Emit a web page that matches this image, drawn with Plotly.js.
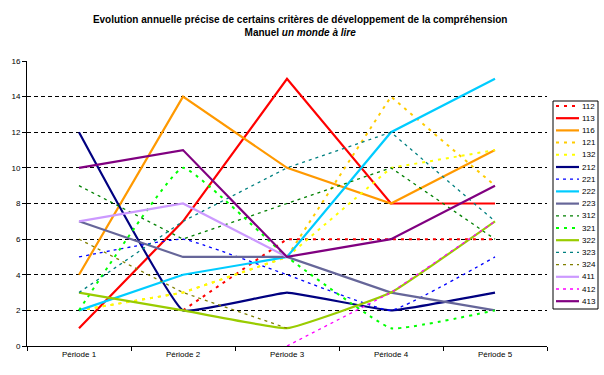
<!DOCTYPE html>
<html>
<head>
<meta charset="utf-8">
<script src="https://cdn.plot.ly/plotly-3.0.1.min.js"></script>
<style>html,body{margin:0;padding:0;background:#fff;}#chart{width:604px;height:375px;}</style>
</head>
<body>
<div id="chart"></div>
<script>
const periods = ['Période 1', 'Période 2', 'Période 3', 'Période 4', 'Période 5'];
const names = ['112','113','116','121','132','212','221','222','223','312','321','322','323','324','411','412','413'];
const s112 = [null, 2, 6, 6, 6];
const s113 = [1, 7, 15, 8, 8];
const s116 = [4, 14, 10, 8, 11];
const s121 = [2, 3, 5, 14, 9];
const s132 = [2, 3, 5, 10, 11];
const s212 = [12, 2, 3, 2, 3];
const s221 = [5, 6, 4, 2, 5];
const s222 = [2, 4, 5, 12, 15];
const s223 = [7, 5, 5, 3, 2];
const s312 = [9, 6, 8, 10, 6];
const s321 = [2, 10, 5, 1, 2];
const s322 = [3, 2, 1, 3, 7];
const s323 = [3, 7, 10, 12, 7];
const s324 = [6, 3, 1, null, null];
const s411 = [7, 8, 5, null, null];
const s412 = [null, null, 0, 3, 7];
const s413 = [10, 11, 5, 6, 9];
const yTicks = [0, 2, 4, 6, 8, 10, 12, 14, 16];

const values = [s112,s113,s116,s121,s132,s212,s221,s222,s223,s312,s321,s322,s323,s324,s411,s412,s413];
const colors = ['#FF0000','#FF0000','#FF9900','#FFCC00','#FFFF00','#000080','#0000FF','#00CCFF','#666699','#008000','#00FF00','#99CC00','#008080','#808000','#CC99FF','#FF00FF','#800080'];
// style: 's' solid, 'd' square dot, 'h' thin dash
const styles = ['d','s','s','d','d','s','h','s','s','h','d','s','h','h','s','h','s'];
const smooth = {'212':0.25,'322':0.3,'321':0.3,'221':0.3};

function lineFor(i){
  const st = styles[i];
  if (st === 's') return {color: colors[i], width: 2.2};
  if (st === 'd') return {color: colors[i], width: 2, dash: '3px,5px'};
  return {color: colors[i], width: 1.3, dash: '3px,4px'};
}

const traces = names.map((n, i) => {
  const ln = lineFor(i);
  if (smooth[n]) { ln.shape = 'spline'; ln.smoothing = smooth[n]; }
  return {type: 'scatter', mode: 'lines', name: n, x: periods, y: values[i], line: ln, connectgaps: false, showlegend: false, hoverinfo: 'skip'};
});

const L = 27, R = 547, T = 61, B = 346;
const px = v => (v - L) / (R - L);
const py = v => (B - v) / (B - T);

const shapes = [{type: 'rect', xref: 'paper', yref: 'paper', x0: px(553), x1: px(598), y0: py(309), y1: py(101), line: {color: '#000', width: 1}, fillcolor: '#fff'}];
const annotations = [];
names.forEach((n, i) => {
  const yy = 106 + i * 12.2;
  const ln = lineFor(i);
  shapes.push({type: 'line', xref: 'paper', yref: 'paper', x0: px(556), x1: px(579), y0: py(yy), y1: py(yy), line: ln});
  annotations.push({xref: 'paper', yref: 'paper', x: px(580), y: py(yy), xanchor: 'left', yanchor: 'middle', text: n, showarrow: false, font: {family: 'Arial, "Liberation Sans", sans-serif', size: 8, color: '#000'}});
});

const layout = {
  width: 604, height: 375,
  margin: {l: L, r: 604 - R, t: T, b: 375 - B, pad: 0},
  paper_bgcolor: '#fff', plot_bgcolor: '#fff',
  font: {family: 'Arial, "Liberation Sans", sans-serif', size: 8, color: '#000'},
  title: {text: '<b>Evolution annuelle précise de certains critères de développement de la compréhension<br>Manuel <i>un monde à lire</i></b>', font: {size: 10, color: '#000'}, xref: 'container', x: 0.497, xanchor: 'center', yref: 'container', y: 0.94, yanchor: 'top'},
  xaxis: {type: 'category', categoryarray: periods, range: [-0.5, 4.5], showline: true, linecolor: '#000', linewidth: 1, ticks: 'outside', ticklen: 4, tickcolor: '#000', tickson: 'boundaries', showgrid: false, zeroline: false, tickfont: {size: 8}, fixedrange: true},
  yaxis: {range: [0, 16], tickvals: yTicks, showline: true, linecolor: '#000', linewidth: 1, ticks: 'outside', ticklen: 4, tickcolor: '#000', showgrid: true, gridcolor: '#000', gridwidth: 1, griddash: '4px,3px', zeroline: false, tickfont: {size: 8}, fixedrange: true},
  showlegend: false,
  shapes: shapes,
  annotations: annotations
};

Plotly.newPlot('chart', traces, layout, {staticPlot: true, displayModeBar: false});
</script>
</body>
</html>
